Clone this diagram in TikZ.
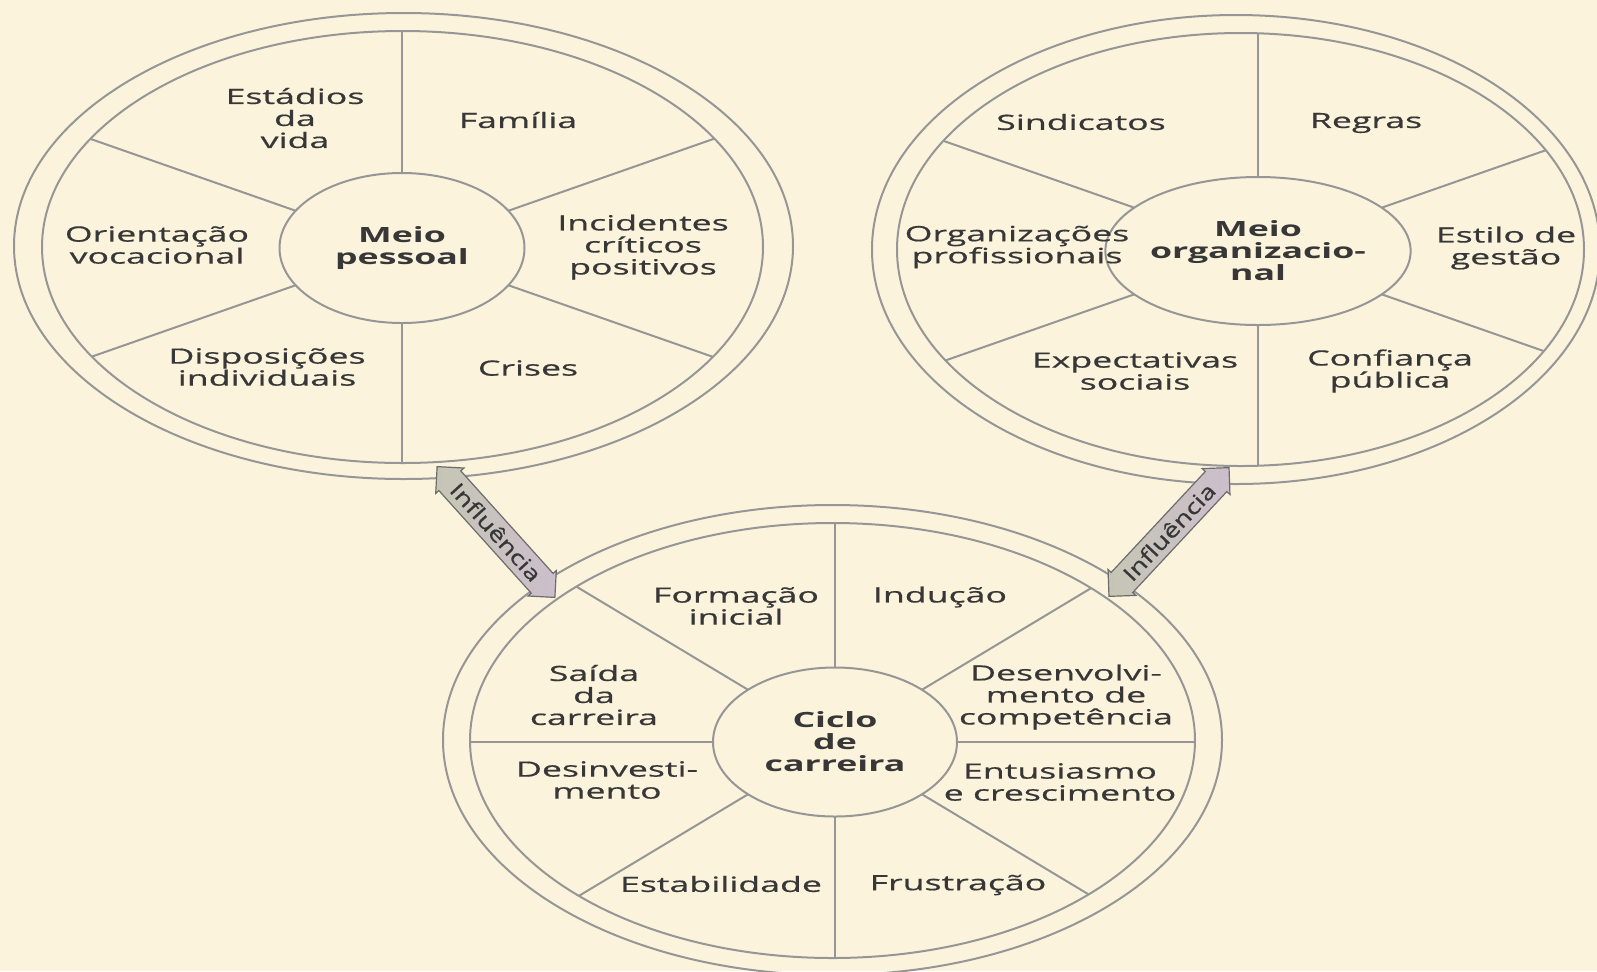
\documentclass[tikz,border=0pt]{standalone}
\usepackage{fontspec}
\setmainfont{Open Sans}[FakeStretch=1.7, UprightFeatures={FakeBold=0.6}]
\newfontfamily\arrowfam{Open Sans}[FakeStretch=1.3, FakeBold=0.5]
\usetikzlibrary{shapes.geometric,shapes.arrows}
\definecolor{bg}{RGB}{252,243,221}
\definecolor{linec}{RGB}{150,150,150}
\definecolor{txt}{RGB}{55,55,55}
\newcommand\lblfont{\fontsize{10.5}{11}\selectfont}
\newcommand\arrowfont{\arrowfam\fontsize{10.5}{11}\selectfont}
\tikzset{
  ring/.style={draw=linec, line width=1pt},
  spoke/.style={draw=linec, line width=1pt},
  hub/.style={ellipse, draw=linec, line width=1pt, fill=bg, inner sep=0pt,
    align=center, font=\lblfont\bfseries, text=txt},
  lbl/.style={align=center, font=\lblfont, text=txt, inner sep=0pt},
  infl/.style={double arrow, draw=gray!85!black, line width=0.6pt,
    double arrow head extend=2pt, minimum height=88pt, minimum width=19pt,
    inner xsep=1pt, inner ysep=2.5pt, left color=olive!15!gray!45, middle color=gray!8,
    right color=violet!28!gray!40, font=\arrowfont, text=txt}
}
\begin{document}
\begin{tikzpicture}[x=0.5pt,y=-0.5pt]
\useasboundingbox (0,0) rectangle (1597,971);
\fill[bg] (0,0) rectangle (1597,971);

% ---------- Wheel A : Meio pessoal ----------
\begin{scope}
  \clip (402.5,247) ellipse [x radius=360.5, y radius=216];
  \foreach \a in {-90,90,19.3,-19.3,160.7,199.3}
    \draw[spoke] (402,248) -- ++(\a:800);
\end{scope}
\draw[ring] (402.5,247) ellipse [x radius=360.5, y radius=216];
\draw[ring] (403.5,246) ellipse [x radius=389.5, y radius=233];
\node[hub, minimum width=122.5pt, minimum height=75pt] (hubA) at (402,248) {Meio\\pessoal};
\node[lbl] (estadios) at (295,118) {Estádios\\da\\vida};
\node[lbl] (familia) at (518,120) {Família};
\node[lbl] (orient) at (157,245) {Orientação\\vocacional};
\node[lbl] (incid) at (643,247) {Incidentes\\críticos\\positivos};
\node[lbl] (dispos) at (267,367) {Disposições\\individuais};
\node[lbl] (crises) at (528,368) {Crises};

% ---------- Wheel B : Meio organizacional ----------
\begin{scope}
  \clip (1240.5,249.5) ellipse [x radius=343.5, y radius=216.5];
  \foreach \a in {-90,90,19.3,-19.3,160.7,199.3}
    \draw[spoke] (1258,251) -- ++(\a:800);
\end{scope}
\draw[ring] (1240.5,249.5) ellipse [x radius=343.5, y radius=216.5];
\draw[ring] (1236,249.5) ellipse [x radius=364, y radius=234.5];
\node[hub, minimum width=119pt, minimum height=74pt] (hubB) at (1258,251) {Meio\\organizacio-\\nal};
\node[lbl] (sind) at (1081,122) {Sindicatos};
\node[lbl] (regras) at (1366,123) {Regras};
\node[lbl] (orgprof) at (1017,247) {Organizações\\profissionais};
\node[lbl] (estilo) at (1506,248) {Estilo de\\gestão};
\node[lbl] (expect) at (1135,371) {Expectativas\\sociais};
\node[lbl] (confi) at (1390,371) {Confiança\\pública};

% ---------- Wheel C : Ciclo de carreira ----------
\begin{scope}
  \clip (832.5,740.5) ellipse [x radius=362.5, y radius=217.5];
  \foreach \a in {-90,90,0,180,31,-31,149,211}
    \draw[spoke] (835,742) -- ++(\a:800);
\end{scope}
\draw[ring] (832.5,740.5) ellipse [x radius=362.5, y radius=217.5];
\draw[ring] (832.5,740) ellipse [x radius=389.5, y radius=235];
\node[hub, minimum width=122pt, minimum height=74.5pt] (hubC) at (835,742) {Ciclo\\de\\carreira};
\node[lbl] (form) at (736,606) {Formação\\inicial};
\node[lbl] (indu) at (940,597) {Indução};
\node[lbl] (saida) at (594,695) {Saída\\da\\carreira};
\node[lbl] (desenv) at (1066,697) {Desenvolvi-\\mento de\\competência};
\node[lbl] (desinv) at (607,780) {Desinvesti-\\mento};
\node[lbl] (entus) at (1060,782) {Entusiasmo\\e crescimento};
\node[lbl] (estab) at (721,884) {Estabilidade};
\node[lbl] (frus) at (958,885) {Frustração};

% ---------- Influence arrows ----------
\node[infl, rotate=-48] (inflA) at (496,532) {Influência};
\node[infl, rotate=47] (inflB) at (1169,532) {Influência};
\end{tikzpicture}
\end{document}
